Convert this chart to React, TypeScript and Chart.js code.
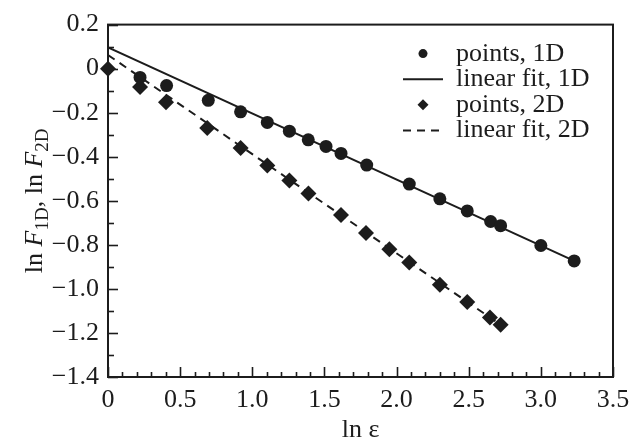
import React, { useEffect, useRef } from "react";
import { Chart, registerables } from "chart.js";

Chart.register(...registerables);

// ---- data ----
const x1D = [0.222, 0.406, 0.695, 0.919, 1.104, 1.257, 1.388, 1.511, 1.615, 1.793, 2.088, 2.3, 2.49, 2.652, 2.721, 3.0, 3.231];
const y1D = [-0.04, -0.077, -0.144, -0.196, -0.244, -0.284, -0.323, -0.353, -0.385, -0.438, -0.524, -0.591, -0.646, -0.694, -0.713, -0.803, -0.873];

const x2D = [0, 0.222, 0.402, 0.688, 0.919, 1.104, 1.257, 1.389, 1.615, 1.788, 1.95, 2.088, 2.3, 2.49, 2.647, 2.721];
const y2D = [0, -0.083, -0.152, -0.269, -0.36, -0.44, -0.508, -0.567, -0.664, -0.746, -0.82, -0.88, -0.981, -1.06, -1.13, -1.163];

const fit1DX = [0, 3.231];
const fit1DY = [0.096, -0.873];
const fit2DX = [0, 2.721];
const fit2DY = [0.062, -1.163];

const seriesLabels = ["points, 1D", "linear fit, 1D", "points, 2D", "linear fit, 2D"];

const xMajorValues = [0, 0.5, 1.0, 1.5, 2.0, 2.5, 3.0, 3.5];
const xTickLabels = ["0", "0.5", "1.0", "1.5", "2.0", "2.5", "3.0", "3.5"];
const yMajorValues = [0.2, 0, -0.2, -0.4, -0.6, -0.8, -1.0, -1.2, -1.4];
const yTickLabels = ["0.2", "0", "\u22120.2", "\u22120.4", "\u22120.6", "\u22120.8", "\u22121.0", "\u22121.2", "\u22121.4"];

const xTitle = "ln \u03b5";
const yTitleParts = [
  { t: "ln ", style: "normal", sub: false },
  { t: "F", style: "italic", sub: false },
  { t: "1D", style: "normal", sub: true },
  { t: ", ln ", style: "normal", sub: false },
  { t: "F", style: "italic", sub: false },
  { t: "2D", style: "normal", sub: true },
];

const FONT = '"Liberation Serif", "Times New Roman", serif';
const INK = "#1c1c1c";
const FS = 26;

const majorIndex = (v: number, arr: number[]) => arr.findIndex((m) => Math.abs(m - v) < 1e-6);

const pts = (xs: number[], ys: number[]) => xs.map((x, i) => ({ x, y: ys[i] }));

function drawSymbol(ctx: CanvasRenderingContext2D, style: string, cx: number, cy: number, r: number) {
  ctx.beginPath();
  if (style === "rectRot") {
    ctx.moveTo(cx, cy - r);
    ctx.lineTo(cx + r, cy);
    ctx.lineTo(cx, cy + r);
    ctx.lineTo(cx - r, cy);
    ctx.closePath();
  } else {
    ctx.arc(cx, cy, r, 0, Math.PI * 2);
  }
  ctx.fill();
}

const decorPlugin = {
  id: "decor",
  beforeDatasetsDraw(chart: any) {
    const { ctx, chartArea: a, scales } = chart;
    ctx.save();
    ctx.strokeStyle = INK;
    ctx.fillStyle = INK;

    // inward tick marks
    ctx.lineWidth = 1.6;
    const xs = scales.x;
    xs.ticks.forEach((t: any, i: number) => {
      const px = Math.round(xs.getPixelForTick(i)) + 0.5;
      const len = majorIndex(t.value, xMajorValues) >= 0 ? 10 : 5;
      ctx.beginPath();
      ctx.moveTo(px, a.bottom);
      ctx.lineTo(px, a.bottom - len);
      ctx.stroke();
    });
    const ys = scales.y;
    ys.ticks.forEach((t: any, i: number) => {
      const py = Math.round(ys.getPixelForTick(i)) + 0.5;
      const len = majorIndex(t.value, yMajorValues) >= 0 ? 10 : 6;
      ctx.beginPath();
      ctx.moveTo(a.left, py);
      ctx.lineTo(a.left + len, py);
      ctx.stroke();
    });

    // frame
    ctx.lineWidth = 2;
    ctx.strokeRect(a.left, a.top, a.right - a.left, a.bottom - a.top);
    ctx.restore();
  },
  afterDraw(chart: any) {
    const { ctx, chartArea: a } = chart;
    ctx.save();
    ctx.strokeStyle = INK;
    ctx.fillStyle = INK;

    // legend inside the plot, top right
    const ds = chart.data.datasets;
    const symX = a.right - 190;
    const lineX0 = a.right - 210;
    const lineX1 = a.right - 170;
    const textX = a.right - 157;
    let base = a.top + 36;
    ctx.font = `${FS}px ${FONT}`;
    ctx.textAlign = "left";
    ctx.textBaseline = "alphabetic";
    ds.forEach((d: any) => {
      const sy = base - 7;
      if (d.showLine) {
        ctx.lineWidth = 2;
        ctx.setLineDash(d.borderDash || []);
        ctx.beginPath();
        ctx.moveTo(lineX0, sy);
        ctx.lineTo(lineX1, sy);
        ctx.stroke();
        ctx.setLineDash([]);
      } else {
        drawSymbol(ctx, d.pointStyle, symX, sy, d.pointStyle === "rectRot" ? 5.5 : 4.5);
      }
      ctx.fillText(d.label, textX, base);
      base += 25.6;
    });

    // x title
    ctx.textAlign = "center";
    ctx.fillText(xTitle, (a.left + a.right) / 2, 437);

    // y title with italic F and subscripts
    ctx.translate(42, (a.top + a.bottom) / 2);
    ctx.rotate(-Math.PI / 2);
    ctx.textAlign = "left";
    const fontOf = (p: any) => `${p.style === "italic" ? "italic " : ""}${p.sub ? 19 : FS}px ${FONT}`;
    let total = 0;
    yTitleParts.forEach((p) => {
      ctx.font = fontOf(p);
      total += ctx.measureText(p.t).width;
    });
    let cx = -total / 2;
    yTitleParts.forEach((p) => {
      ctx.font = fontOf(p);
      ctx.fillText(p.t, cx, p.sub ? 6 : 0);
      cx += ctx.measureText(p.t).width;
    });
    ctx.restore();
  },
};

export default function App() {
  const ref = useRef<HTMLCanvasElement | null>(null);

  useEffect(() => {
    if (!ref.current) return;
    const chart = new Chart(ref.current, {
      type: "scatter",
      data: {
        datasets: [
          {
            label: seriesLabels[0],
            data: pts(x1D, y1D),
            pointStyle: "circle",
            pointRadius: 6.5,
            backgroundColor: INK,
            borderColor: INK,
            borderWidth: 0,
            showLine: false,
            clip: false,
            order: 1,
          },
          {
            label: seriesLabels[1],
            data: pts(fit1DX, fit1DY),
            showLine: true,
            pointRadius: 0,
            borderColor: INK,
            borderWidth: 2,
            order: 3,
          },
          {
            label: seriesLabels[2],
            data: pts(x2D, y2D),
            pointStyle: "rectRot",
            pointRadius: 8,
            backgroundColor: INK,
            borderColor: INK,
            borderWidth: 0,
            showLine: false,
            clip: false,
            order: 0,
          },
          {
            label: seriesLabels[3],
            data: pts(fit2DX, fit2DY),
            showLine: true,
            pointRadius: 0,
            borderColor: INK,
            borderWidth: 2,
            borderDash: [8, 6],
            order: 2,
          },
        ] as any,
      },
      options: {
        animation: false,
        responsive: false,
        layout: { padding: { left: 0, top: 19, right: 28, bottom: 0 } },
        plugins: { legend: { display: false }, tooltip: { enabled: false } },
        scales: {
          x: {
            type: "linear",
            min: 0,
            max: 3.5,
            afterFit: (s: any) => {
              s.height = 65;
            },
            grid: { display: false, drawTicks: false },
            border: { display: false },
            ticks: {
              stepSize: 0.1,
              autoSkip: false,
              maxRotation: 0,
              minRotation: 0,
              padding: 8,
              color: INK,
              font: { family: FONT, size: FS },
              callback: (v: any) => {
                const i = majorIndex(Number(v), xMajorValues);
                return i >= 0 ? xTickLabels[i] : "";
              },
            },
          },
          y: {
            type: "linear",
            min: -1.4,
            max: 0.2,
            afterFit: (s: any) => {
              s.width = 108;
            },
            grid: { display: false, drawTicks: false },
            border: { display: false },
            ticks: {
              stepSize: 0.1,
              autoSkip: false,
              padding: 9,
              color: INK,
              font: { family: FONT, size: FS },
              callback: (v: any) => {
                const i = majorIndex(Number(v), yMajorValues);
                return i >= 0 ? yTickLabels[i] : "";
              },
            },
          },
        },
      },
      plugins: [decorPlugin],
    });
    return () => chart.destroy();
  }, []);

  return (
    <div style={{ position: "absolute", left: 0, top: 0, width: 641, height: 442, background: "#fff" }}>
      <canvas ref={ref} width={641} height={442} style={{ display: "block" }} />
    </div>
  );
}
